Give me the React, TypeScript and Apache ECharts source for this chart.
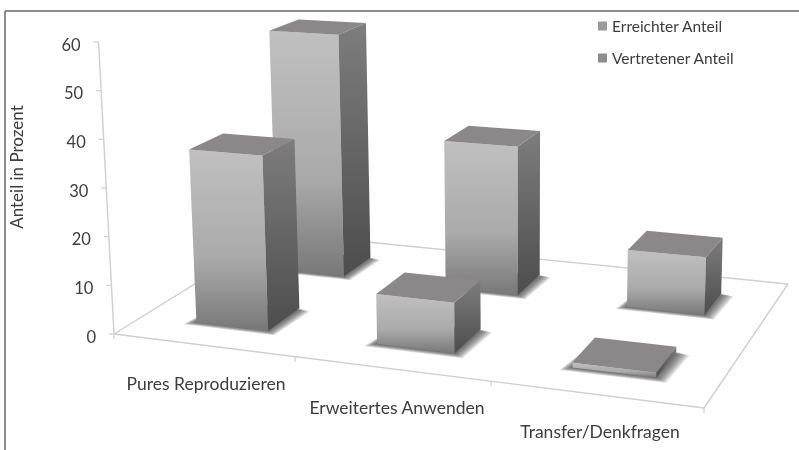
import React, { useEffect, useRef } from "react";
import * as echarts from "echarts";

const categories = ["Pures Reproduzieren", "Erweitertes Anwenden", "Transfer/Denkfragen"];
const seriesNames = ["Erreichter Anteil", "Vertretener Anteil"];
const erreichterAnteil = [36, 10, 1];
const vertretenerAnteil = [54, 32, 12];
const yTicks = [0, 10, 20, 30, 40, 50, 60];

const FONT = "Lato, 'Noto Sans', sans-serif";
const TEXT = "#3d3d3d";
const GRID = { left: 114, top: 42, width: 590, height: 292 };
// Floor corners on screen: front-left, front-right, back-right, back-left
const P00 = [114, 334], P10 = [704, 408], P11 = [788, 284], P01 = [277, 233];
const VP = [520, 8000];

const dx1 = P10[0] - P11[0], dx2 = P01[0] - P11[0], sx = P00[0] - P10[0] + P11[0] - P01[0];
const dy1 = P10[1] - P11[1], dy2 = P01[1] - P11[1], sy = P00[1] - P10[1] + P11[1] - P01[1];
const den = dx1 * dy2 - dx2 * dy1;
const G = (sx * dy2 - dx2 * sy) / den;
const H = (dx1 * sy - sx * dy1) / den;
const A = P10[0] - P00[0] + G * P10[0], B = P01[0] - P00[0] + H * P01[0];
const D = P10[1] - P00[1] + G * P10[1], E = P01[1] - P00[1] + H * P01[1];

function project(u: number, v: number, heightPx = 0): number[] {
  const w = 1 + G * u + H * v;
  const x = (A * u + B * v + P00[0]) / w;
  const y = (D * u + E * v + P00[1]) / w;
  const hh = heightPx / w;
  return [x - (hh * (VP[0] - x)) / (VP[1] - y), y - hh];
}

const leanAtHeight = (h: number) => P00[0] - project(0, 0, h)[0];

const BAR_U = 0.135;
const BAR_V = 0.196;
const SHADOW_LAYERS = [1, 0.9, 0.8, 0.7, 0.6, 0.5, 0.4, 0.3, 0.2, 0.1];

function barRenderer(vCenter: number) {
  return (_params: any, api: any) => {
    const cat = api.value(0);
    const pt = api.coord([cat, api.value(1)]);
    const u0 = (pt[0] - GRID.left) / GRID.width;
    const hPx = api.coord([cat, 0])[1] - pt[1];
    const uL = u0 - BAR_U / 2, uR = u0 + BAR_U / 2;
    const vF = vCenter - BAR_V / 2, vB = vCenter + BAR_V / 2;
    const fl = project(uL, vF), fr = project(uR, vF), br = project(uR, vB);
    const tfl = project(uL, vF, hPx), tfr = project(uR, vF, hPx);
    const tbr = project(uR, vB, hPx), tbl = project(uL, vB, hPx);
    const shadows = SHADOW_LAYERS.map((t) => ({
      type: "polygon",
      shape: {
        points: [
          project(uL - 0.016 * t, vF - 0.028 * t),
          project(uR + 0.02 * t, vF - 0.028 * t),
          project(uR + 0.024 * t, vB - 0.015 * t),
          project(uL, vB),
        ],
      },
      style: { fill: "rgba(55,55,55,0.11)" },
    }));
    const grad = (stops: [number, string][]) =>
      new echarts.graphic.LinearGradient(0, 0, 0, 1, stops.map(([offset, color]) => ({ offset, color })));
    return {
      type: "group",
      children: [
        ...shadows,
        {
          type: "polygon",
          shape: { points: [fl, fr, tfr, tfl] },
          style: {
            fill: grad([
              [0, "#c0c0c0"],
              [0.6, "#aaaaaa"],
              [1, "#787878"],
            ]),
          },
        },
        {
          type: "polygon",
          shape: { points: [fr, br, tbr, tfr] },
          style: {
            fill: grad([
              [0, "#7d7d7d"],
              [1, "#4d4d4d"],
            ]),
          },
        },
        {
          type: "polygon",
          shape: { points: [tfl, tfr, tbr, tbl] },
          style: { fill: "#8a8888" },
        },
      ],
    };
  };
}

function frameRenderer(params: any, api: any) {
  const line = (a: number[], b: number[], w = 1.4) => ({
    type: "line",
    shape: { x1: a[0], y1: a[1], x2: b[0], y2: b[1] },
    style: { stroke: "#cfcfcf", lineWidth: w },
  });
  const tick = api.value(1);
  const hPx = api.coord([0, 0])[1] - api.coord([0, tick])[1];
  const p = project(0, 0, hPx);
  const children: any[] = [line([p[0] - 5, p[1]], p, 1.2)];
  if (params.dataIndex === 0) {
    const top = project(0, 0, api.coord([0, 0])[1] - api.coord([0, yTicks[yTicks.length - 1]])[1]);
    children.push(line(project(0, 0), top));
    children.push(line(project(0, 0), project(1, 0)));
    children.push(line(project(0, 0), project(0, 1)));
    children.push(line(project(0, 1), project(1, 1)));
    children.push(line(project(1, 1), project(1, 0)));
    categories.forEach((_c, i) => {
      const q = project((i + 1) / categories.length, 0);
      children.push(line(q, [q[0], q[1] + 5], 1.2));
    });
    children.push(line(P00, [P00[0], P00[1] + 5], 1.2));
  }
  return { type: "group", children };
}

// Per-label shifts that follow the tilted axis and the receding floor edge
const catShift = [
  [40, 16],
  [64, 26],
  [88, 12],
];

export default function App() {
  const ref = useRef<HTMLDivElement>(null);
  useEffect(() => {
    const chart = echarts.init(ref.current!, undefined, { renderer: "svg" });
    const yRich: Record<string, any> = {};
    yTicks.forEach((t) => {
      yRich["p" + t] = {
        fontFamily: FONT,
        fontSize: 16.5,
        color: TEXT,
        padding: [5, leanAtHeight((t / 60) * GRID.height), 0, 0],
      };
    });
    const xRich: Record<string, any> = {};
    categories.forEach((_c, i) => {
      xRich["c" + i] = {
        fontFamily: FONT,
        fontSize: 17.5,
        color: TEXT,
        padding: [catShift[i][0], catShift[i][1], 0, 0],
      };
    });
    chart.setOption({
      animation: false,
      backgroundColor: "#ffffff",
      grid: { ...GRID, containLabel: false },
      legend: {
        data: seriesNames,
        orient: "vertical",
        left: 598,
        top: 18,
        padding: 0,
        itemWidth: 9,
        itemHeight: 9,
        itemGap: 16,
        icon: "rect",
        selectedMode: false,
        textStyle: { fontFamily: FONT, fontSize: 15.5, color: TEXT },
      },
      xAxis: {
        type: "category",
        data: categories,
        axisLine: { show: false },
        axisTick: { show: false },
        axisLabel: {
          interval: 0,
          margin: 0,
          formatter: (v: string, i: number) => `{c${i}|${v}}`,
          rich: xRich,
        },
      },
      yAxis: {
        type: "value",
        min: 0,
        max: 60,
        interval: 10,
        name: "Anteil in Prozent",
        nameLocation: "middle",
        nameRotate: 90,
        nameGap: 91,
        nameTextStyle: { fontFamily: FONT, fontSize: 17, color: TEXT, padding: [0, 0, 0, 42] },
        axisLine: { show: false },
        axisTick: { show: false },
        splitLine: { show: false },
        axisLabel: {
          margin: 20,
          formatter: (v: number) => `{p${v}|${v}}`,
          rich: yRich,
        },
      },
      graphic: [
        { type: "line", shape: { x1: 5, y1: 11, x2: 799, y2: 11 }, style: { stroke: "#666666", lineWidth: 1.5 } },
        { type: "line", shape: { x1: 5, y1: 11, x2: 5, y2: 450 }, style: { stroke: "#666666", lineWidth: 1.5 } },
      ],
      series: [
        {
          type: "custom",
          name: "Achsen",
          coordinateSystem: "cartesian2d",
          silent: true,
          clip: false,
          renderItem: frameRenderer,
          data: yTicks.map((t) => [0, t]),
        },
        {
          type: "custom",
          name: seriesNames[1],
          coordinateSystem: "cartesian2d",
          clip: false,
          itemStyle: { color: "#8c8c8c" },
          renderItem: barRenderer(0.758),
          data: vertretenerAnteil.map((v, i) => [i, v]),
        },
        {
          type: "custom",
          name: seriesNames[0],
          coordinateSystem: "cartesian2d",
          clip: false,
          itemStyle: { color: "#9a9a9a" },
          renderItem: barRenderer(0.257),
          data: erreichterAnteil.map((v, i) => [i, v]),
        },
      ],
    });
    return () => chart.dispose();
  }, []);
  return (
    <div
      ref={ref}
      style={{ position: "absolute", left: 0, top: 0, width: 799, height: 450, filter: "blur(0.5px)" }}
    />
  );
}
